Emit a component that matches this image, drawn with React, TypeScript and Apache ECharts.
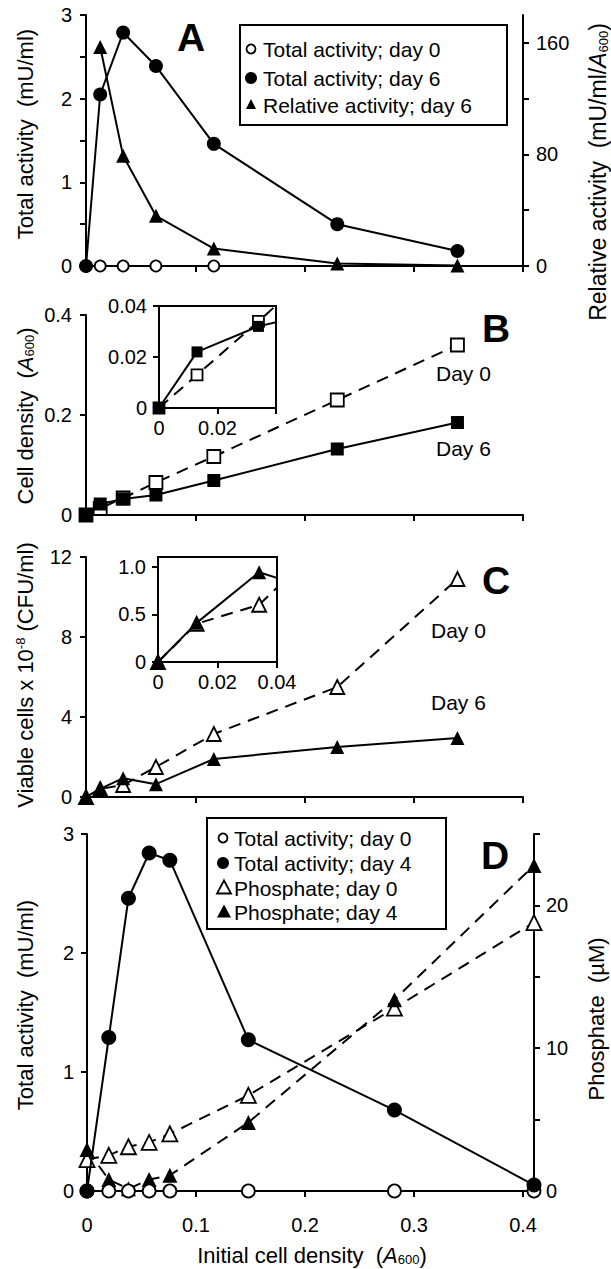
import React, { useEffect, useRef } from "react";
import * as echarts from "echarts";

const FONT = '"Liberation Sans", Arial, sans-serif';
const BLACK = "#000";
const LW = 2;

// Panels A–C: initial cell density (A600)
const densityABC = [0, 0.013, 0.034, 0.064, 0.117, 0.23, 0.34];
// Panel A
const aTotalDay0 = [0, 0, 0, 0, 0];
const aTotalDay6 = [0, 2.05, 2.79, 2.39, 1.46, 0.5, 0.18];
const aRelativeDay6 = [null, 157, 79, 36, 12.5, 1.8, 0.4];
// Panel B
const bDensityDay0 = [0, 0.013, 0.034, 0.065, 0.117, 0.23, 0.34];
const bDensityDay6 = [0, 0.022, 0.032, 0.04, 0.069, 0.132, 0.185];
// Panel C
const cViableDay0 = [0, 0.4, 0.6, 1.5, 3.15, 5.5, 10.9];
const cViableDay6 = [0, 0.41, 0.94, 0.64, 1.9, 2.5, 2.95];
// Panel D
const densityD = [0, 0.02, 0.038, 0.057, 0.076, 0.148, 0.282, 0.41];
const dTotalDay0 = [0, 0, 0, 0, 0, 0, 0, 0];
const dTotalDay4 = [0, 1.29, 2.46, 2.84, 2.78, 1.27, 0.68, 0.05];
const dPhosphateDay0 = [2.2, 2.5, 3.1, 3.4, 4.0, 6.7, 12.8, 18.8];
const dPhosphateDay4 = [2.9, 0.8, 0.15, 0.8, 1.1, 4.8, 13.4, 22.8];

// Tick values
const xTicks = [0, 0.1, 0.2, 0.3, 0.4];
const aLeftTicks = [0, 0.5, 1, 1.5, 2, 2.5, 3];
const aLeftLabels = [0, 1, 2, 3];
const aRightTicks = [0, 40, 80, 120, 160];
const aRightLabels = [0, 80, 160];
const bTicks = [0, 0.2, 0.4];
const insetBTicks = [0, 0.02, 0.04];
const insetBXLabels = [0, 0.02];
const cTicks = [0, 4, 8, 12];
const insetCXTicks = [0, 0.02, 0.04];
const insetCYTicks = [0, 0.5, 1.0];
const dLeftTicks = [0, 1, 2, 3];
const dRightTicks = [0, 5, 10, 15, 20, 25];
const dRightLabels = [0, 10, 20];

const pairs = (xs: number[], ys: (number | null)[]) =>
  ys
    .map((y, i) => (y === null ? null : [xs[i], y]))
    .filter((p) => p !== null) as number[][];

const num = (v: number) => String(+Number(v).toFixed(3));

function axis(
  kind: "x" | "y",
  gridIndex: number,
  max: number,
  ticks: number[],
  labels: number[] | null,
  margin: number,
  position?: string,
  fmt?: (v: number) => string
) {
  const a: any = {
    type: "value",
    gridIndex,
    min: 0,
    max,
    axisLine: { show: true, onZero: false, lineStyle: { color: BLACK, width: LW } },
    axisTick: {
      show: true,
      inside: false,
      length: 6,
      customValues: ticks,
      lineStyle: { color: BLACK, width: LW },
    },
    axisLabel: labels
      ? {
          show: true,
          customValues: labels,
          margin,
          color: BLACK,
          fontSize: 20,
          fontFamily: FONT,
          formatter: fmt || num,
        }
      : { show: false },
    splitLine: { show: false },
  };
  if (position) a.position = position;
  return a;
}

function line(
  xi: number,
  yi: number,
  data: number[][],
  symbol: string,
  size: number,
  filled: boolean,
  dashed: boolean,
  z: number
) {
  return {
    type: "line",
    xAxisIndex: xi,
    yAxisIndex: yi,
    data,
    symbol,
    symbolSize: size,
    showSymbol: true,
    clip: true,
    silent: true,
    z,
    lineStyle: { color: BLACK, width: LW, type: dashed ? [12, 8] : "solid" },
    itemStyle: {
      color: filled ? BLACK : "#fff",
      borderColor: BLACK,
      borderWidth: filled ? 0 : 1.8,
    },
    emphasis: { disabled: true },
  };
}

const circ = (cx: number, cy: number, r: number, filled: boolean) => ({
  type: "circle",
  shape: { cx, cy, r },
  style: { fill: filled ? BLACK : "#fff", stroke: BLACK, lineWidth: filled ? 0 : 1.8 },
  z: 100,
});
const tri = (cx: number, cy: number, w: number, h: number, filled: boolean) => ({
  type: "polygon",
  shape: {
    points: [
      [cx, cy - h / 2],
      [cx + w / 2, cy + h / 2],
      [cx - w / 2, cy + h / 2],
    ],
  },
  style: { fill: filled ? BLACK : "#fff", stroke: BLACK, lineWidth: filled ? 0 : 1.8 },
  z: 100,
});
const txt = (
  x: number,
  y: number,
  text: string,
  o: { size?: number; bold?: boolean; align?: string; rot?: boolean; rich?: any } = {}
) => ({
  type: "text",
  x,
  y,
  rotation: o.rot ? Math.PI / 2 : 0,
  z: 100,
  style: {
    text,
    fill: BLACK,
    fontSize: o.size || 21,
    fontFamily: FONT,
    fontWeight: o.bold ? "bold" : "normal",
    align: o.align || "left",
    verticalAlign: "middle",
    textAlign: o.align || "left",
    textVerticalAlign: "middle",
    rich: o.rich,
  },
});

const richSub = (size: number) => ({
  i: { fontSize: size, fontFamily: FONT, fontStyle: "italic", fill: BLACK },
  s: { fontSize: 13, fontFamily: FONT, verticalAlign: "bottom", fill: BLACK },
  n: { fontSize: size, fontFamily: FONT, fill: BLACK },
  sup: { fontSize: 13, fontFamily: FONT, verticalAlign: "top", fill: BLACK },
});

const option: any = {
  animation: false,
  backgroundColor: "#fff",
  grid: [
    { left: 86, top: 15, width: 437, height: 251 },
    { left: 86, top: 315, width: 437, height: 200 },
    { left: 159, top: 306, width: 117, height: 102, show: true, borderColor: BLACK, borderWidth: LW, backgroundColor: "transparent" },
    { left: 86, top: 557, width: 437, height: 240 },
    { left: 158, top: 557, width: 119, height: 105, show: true, borderColor: BLACK, borderWidth: LW, backgroundColor: "transparent" },
    { left: 87, top: 834, width: 447, height: 357 },
  ],
  xAxis: [
    axis("x", 0, 0.4, xTicks, null, 0),
    axis("x", 1, 0.4, xTicks, null, 0),
    axis("x", 2, 0.04, insetBTicks, insetBXLabels, 10),
    axis("x", 3, 0.4, xTicks, null, 0),
    axis("x", 4, 0.04, insetCXTicks, insetCXTicks, 10),
    axis("x", 5, 0.41, xTicks, xTicks, 24),
  ],
  yAxis: [
    axis("y", 0, 3, aLeftTicks, aLeftLabels, 14, "left"),
    axis("y", 0, 180, aRightTicks, aRightLabels, 13, "right"),
    axis("y", 1, 0.4, bTicks, bTicks, 14, "left"),
    axis("y", 2, 0.04, insetBTicks, insetBTicks, 12, "left"),
    axis("y", 3, 12, cTicks, cTicks, 14, "left"),
    axis("y", 4, 1.1, insetCYTicks, insetCYTicks, 12, "left", (v: number) =>
      v === 0 ? "0" : Number(v).toFixed(1)
    ),
    axis("y", 5, 3, dLeftTicks, dLeftTicks, 13, "left"),
    axis("y", 5, 25, dRightTicks, dRightLabels, 12, "right"),
  ],
  series: [
    // A
    line(0, 1, pairs(densityABC, aRelativeDay6), "triangle", 14, true, false, 2),
    line(0, 0, pairs(densityABC, aTotalDay0), "circle", 11, false, false, 3),
    line(0, 0, pairs(densityABC, aTotalDay6), "circle", 14, true, false, 4),
    // B
    line(1, 2, pairs(densityABC, bDensityDay0), "rect", 13, false, true, 2),
    line(1, 2, pairs(densityABC, bDensityDay6), "rect", 13, true, false, 3),
    // B inset
    line(2, 3, pairs(densityABC, bDensityDay0), "rect", 11, false, true, 2),
    line(2, 3, pairs(densityABC, bDensityDay6), "rect", 11, true, false, 3),
    // C
    line(3, 4, pairs(densityABC, cViableDay0), "triangle", 14, false, true, 2),
    line(3, 4, pairs(densityABC, cViableDay6), "triangle", 14, true, false, 3),
    // C inset
    line(4, 5, pairs(densityABC, cViableDay0), "triangle", 14, false, true, 2),
    line(4, 5, pairs(densityABC, cViableDay6), "triangle", 14, true, false, 3),
    // D
    line(5, 7, pairs(densityD, dPhosphateDay0), "triangle", 15, false, true, 2),
    line(5, 7, pairs(densityD, dPhosphateDay4), "triangle", 15, true, true, 3),
    line(5, 6, pairs(densityD, dTotalDay0), "circle", 13, false, false, 4),
    line(5, 6, pairs(densityD, dTotalDay4), "circle", 15, true, false, 5),
  ],
  graphic: [
    // Legend A
    {
      type: "rect",
      shape: { x: 240, y: 25, width: 267, height: 100 },
      style: { fill: "#fff", stroke: BLACK, lineWidth: LW },
      z: 90,
    },
    circ(251, 49, 4.5, false),
    txt(263, 49, "Total activity; day 0"),
    circ(251, 78, 6, true),
    txt(263, 78, "Total activity; day 6"),
    tri(251, 104, 10, 10, true),
    txt(263, 105, "Relative activity; day 6"),
    // Legend D
    {
      type: "rect",
      shape: { x: 207, y: 818, width: 239, height: 111 },
      style: { fill: "#fff", stroke: BLACK, lineWidth: LW },
      z: 90,
    },
    circ(223, 838, 4.5, false),
    txt(234, 838, "Total activity; day 0"),
    circ(223, 863, 6, true),
    txt(234, 863, "Total activity; day 4"),
    tri(224, 887, 14, 13, false),
    txt(234, 888, "Phosphate; day 0"),
    tri(224, 911, 14, 13, true),
    txt(234, 912, "Phosphate; day 4"),
    // Panel letters
    txt(191, 37, "A", { size: 39, bold: true, align: "center" }),
    txt(496, 328, "B", { size: 39, bold: true, align: "center" }),
    txt(496, 580, "C", { size: 39, bold: true, align: "center" }),
    txt(495, 855, "D", { size: 39, bold: true, align: "center" }),
    // Day labels
    txt(436, 373, "Day 0", { size: 21 }),
    txt(436, 448, "Day 6", { size: 21 }),
    txt(431, 630, "Day 0", { size: 21 }),
    txt(431, 702, "Day 6", { size: 21 }),
    // Axis titles
    txt(25, 134, "Total activity  (mU/ml)", { size: 22, align: "center", rot: true }),
    txt(598, 172, "{n|Relative activity  (mU/ml/}{i|A}{s|600}{n|)}", {
      size: 23,
      align: "center",
      rot: true,
      rich: richSub(23),
    }),
    txt(25, 416, "{n|Cell density  (}{i|A}{s|600}{n|)}", {
      size: 22,
      align: "center",
      rot: true,
      rich: richSub(22),
    }),
    txt(25, 675, "{n|Viable cells x 10}{sup|-8}{n| (CFU/ml)}", {
      size: 22,
      align: "center",
      rot: true,
      rich: richSub(22),
    }),
    txt(25, 1005, "Total activity  (mU/ml)", { size: 22, align: "center", rot: true }),
    txt(596, 1019, "Phosphate  (µM)", { size: 22, align: "center", rot: true }),
    txt(312, 1255, "{n|Initial cell density  (}{i|A}{s|600}{n|)}", {
      size: 22,
      align: "center",
      rich: richSub(22),
    }),
  ],
};

export default function App() {
  const ref = useRef<HTMLDivElement>(null);
  useEffect(() => {
    if (!ref.current) return;
    const chart = echarts.init(ref.current, null, { renderer: "svg" });
    chart.setOption(option);
    return () => chart.dispose();
  }, []);
  return (
    <div
      ref={ref}
      style={{ position: "absolute", left: 0, top: 0, width: 611, height: 1269, background: "#fff" }}
    />
  );
}
